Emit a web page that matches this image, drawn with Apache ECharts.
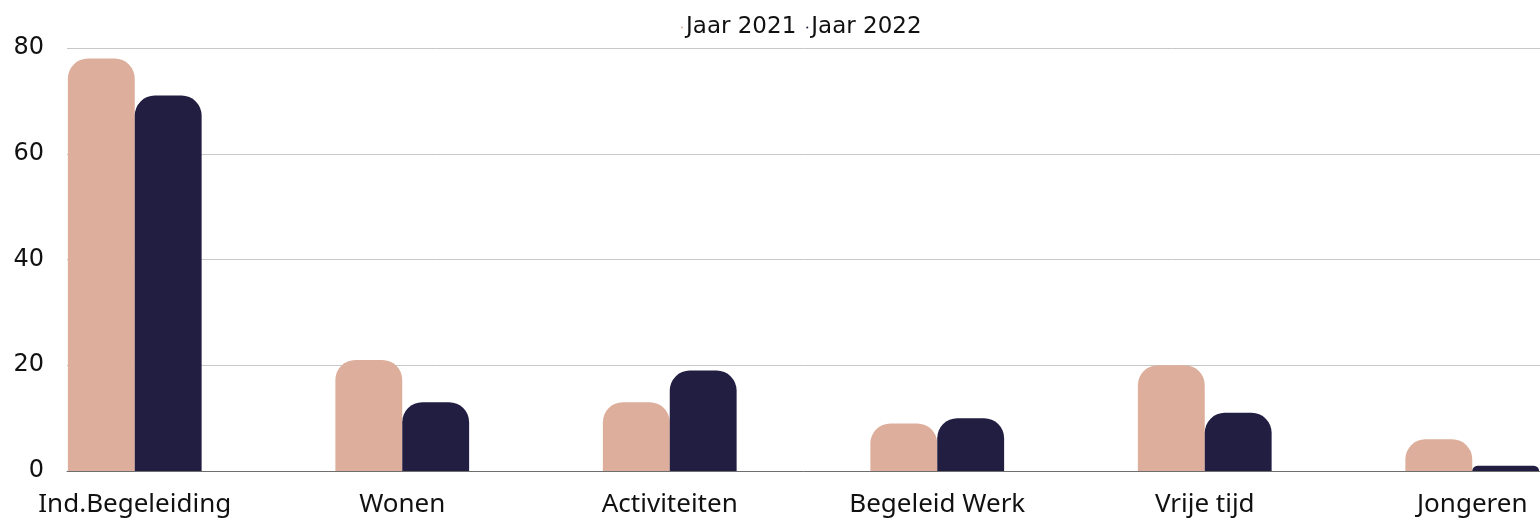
<!DOCTYPE html>
<html>
<head>
<meta charset="utf-8">
<script src="https://cdn.jsdelivr.net/npm/echarts@6/dist/echarts.min.js"></script>
<style>
  html, body { margin: 0; padding: 0; background: #fff; }
  #main { width: 1540px; height: 523px; }
</style>
</head>
<body>
<div id="main"></div>
<script>
const categories = ['Ind.Begeleiding', 'Wonen', 'Activiteiten', 'Begeleid Werk', 'Vrije tijd', 'Jongeren'];
const jaar2021 = [78, 21, 13, 9, 20, 6];
const jaar2022 = [71, 13, 19, 10, 11, 1];
const yTicks = [0, 20, 40, 60, 80];

const chart = echarts.init(document.getElementById('main'));

// bars live in grid 0 (wider than the page), grid lines + y labels in grid 1
chart.setOption({
  animation: false,
  textStyle: { fontFamily: 'Noto Sans' },
  legend: {
    top: 11,
    left: 676,
    itemWidth: 2,
    itemHeight: 2,
    itemGap: 10,
    icon: 'circle',
    textStyle: { fontFamily: 'DejaVu Sans', fontSize: 23, color: '#111', padding: [0, 0, 0, -2] },
    data: ['Jaar 2021', 'Jaar 2022']
  },
  grid: [
    { left: 1, right: -66, top: 48, bottom: 52, outerBoundsMode: 'none' },
    { left: 67, right: 0, top: 48, bottom: 52, outerBoundsMode: 'none' }
  ],
  xAxis: [
    {
      gridIndex: 0,
      type: 'category',
      data: categories,
      axisLine: { show: false },
      axisTick: { show: false },
      axisLabel: { interval: 0, fontSize: 26, color: '#111', margin: 21 }
    },
    {
      gridIndex: 1,
      type: 'value',
      min: 0,
      max: 1,
      axisLine: { show: true, lineStyle: { color: '#6e6e6e', width: 1 } },
      axisTick: { show: false },
      axisLabel: { show: false },
      splitLine: { show: false }
    }
  ],
  yAxis: [
    {
      gridIndex: 0,
      type: 'value',
      min: 0,
      max: 80,
      show: false
    },
    {
      gridIndex: 1,
      type: 'value',
      min: yTicks[0],
      max: yTicks[yTicks.length - 1],
      interval: 20,
      axisLine: { show: false },
      axisTick: { show: false },
      axisLabel: { fontFamily: 'DejaVu Sans', fontSize: 24, color: '#111', margin: 23 },
      splitLine: { lineStyle: { color: '#c8c8c8', width: 1 } }
    }
  ],
  series: [
    {
      name: 'Jaar 2021',
      type: 'bar',
      xAxisIndex: 0,
      yAxisIndex: 0,
      data: jaar2021,
      barGap: '0%',
      barCategoryGap: '50%',
      itemStyle: { color: '#ddae9b', borderRadius: [20, 20, 0, 0] }
    },
    {
      name: 'Jaar 2022',
      type: 'bar',
      xAxisIndex: 0,
      yAxisIndex: 0,
      data: jaar2022,
      barGap: '0%',
      barCategoryGap: '50%',
      itemStyle: { color: '#211e41', borderRadius: [20, 20, 0, 0] }
    }
  ]
});
</script>
</body>
</html>
